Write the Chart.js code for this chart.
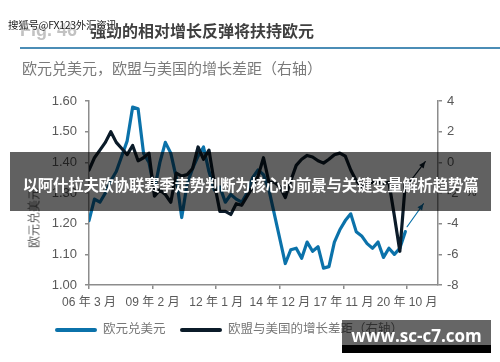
<!DOCTYPE html>
<html>
<head>
<meta charset="utf-8">
<script src="https://cdn.jsdelivr.net/npm/chart.js@4.4.1/dist/chart.umd.min.js"></script>
<style>
  html, body { margin: 0; padding: 0; background: #fff; }
  body { width: 500px; height: 362px; position: relative; overflow: hidden; font-family: "Noto Sans CJK SC", "Liberation Sans", sans-serif; }
  #chart-box { position: absolute; left: 0; top: 0; width: 500px; height: 362px; }
  .abs { position: absolute; white-space: nowrap; }
  .fig { left: 20px; top: 20px; font: bold 18px "Liberation Sans", sans-serif; color: #c2c2c2; }
  .title { left: 90px; top: 18px; font-size: 16px; font-weight: bold; color: #3f3f3f; }
  .mark { left: 8px; top: 17px; font-size: 10.5px; color: #1a1a1a; letter-spacing: -0.3px; text-shadow: 0 0 2px #fff, 0 0 2px #fff; }
  .rule { left: 20px; top: 47px; width: 480px; height: 2px; background: #4b8db6; }
  .subtitle { left: 22px; top: 57px; font-size: 15px; color: #7a7a7a; }
  .ytitle { left: 33px; top: 218px; font-size: 12px; color: #595959; transform: translate(-50%, -50%) rotate(-90deg); }
  .pct { left: 466px; top: 185px; font: 12px "Liberation Sans", sans-serif; color: #595959; }
  .legend { top: 319px; font-size: 12.5px; color: #777; line-height: 18px; }
  .swatch { display: inline-block; width: 42px; height: 4px; vertical-align: middle; margin-right: 6px; border-radius: 2px; }
  .banner { left: 10px; top: 152px; width: 481px; height: 59px; background: rgba(0,0,0,0.62); color: #fff; font-size: 15.4px; font-weight: bold; text-align: center; line-height: 64px; letter-spacing: -0.2px; }
  .site { left: 342px; top: 320px; width: 149px; height: 25px; background: rgba(0,0,0,0.6); }
  .site-strip { left: 342px; top: 345px; width: 149px; height: 8px; background: #000; }
  .site-text { left: 342px; top: 321px; width: 149px; text-align: center; font: bold 17px "Open Sans", "DejaVu Sans", sans-serif; color: #fff; line-height: 30px; }
</style>
</head>
<body>
<div id="chart-box"><canvas id="fxChart"></canvas></div>

<div class="abs fig">Fig. 46</div>
<div class="abs title">强劲的相对增长反弹将扶持欧元</div>
<div class="abs mark">搜狐号@FX123外汇资讯</div>
<div class="abs rule"></div>
<div class="abs subtitle">欧元兑美元，欧盟与美国的增长差距（右轴）</div>
<div class="abs ytitle">欧元兑美元</div>
<div class="abs pct">%</div>
<div class="abs legend" style="left:55px"><span class="swatch" style="background:#0b72aa"></span>欧元兑美元</div>
<div class="abs legend" style="left:180px"><span class="swatch" style="background:#0b1b29"></span>欧盟与美国的增长差距（右轴）</div>
<div class="abs banner">以阿什拉夫欧协联赛季走势判断为核心的前景与关键变量解析趋势篇</div>
<div class="abs site"></div>
<div class="abs site-strip"></div>
<div class="abs site-text">www.sc-c7.com</div>

<script>
// quarters (yy/mm)
const quarters = [
  '06/03','06/06','06/09','06/12', '07/03','07/06','07/09','07/12',
  '08/03','08/06','08/09','08/12', '09/03','09/06','09/09','09/12',
  '10/03','10/06','10/09','10/12', '11/03','11/06','11/09','11/12',
  '12/03','12/06','12/09','12/12', '13/03','13/06','13/09','13/12',
  '14/03','14/06','14/09','14/12', '15/03','15/06','15/09','15/12',
  '16/03','16/06','16/09','16/12', '17/03','17/06','17/09','17/12',
  '18/03','18/06','18/09','18/12', '19/03','19/06','19/09','19/12',
  '20/03','20/06','20/09'
];

// 欧元兑美元 (left axis)
const eurusd = [
  1.21, 1.28, 1.27, 1.30, 1.34, 1.37, 1.42, 1.47,
  1.58, 1.575, 1.43, 1.40, 1.31, 1.40, 1.465, 1.43,
  1.35, 1.22, 1.33, 1.38, 1.42, 1.45, 1.37, 1.31,
  1.32, 1.27, 1.295, 1.28, 1.27, 1.30, 1.35, 1.375,
  1.36, 1.31, 1.23, 1.15, 1.07, 1.115, 1.12, 1.087,
  1.14, 1.11, 1.125, 1.055, 1.06, 1.14, 1.18, 1.21,
  1.232, 1.174, 1.16, 1.135, 1.12, 1.14, 1.09, 1.12,
  1.10, 1.12, 1.174
];

// 欧盟与美国的增长差距 (right axis, %)
const growthGap = [
  -0.5, 0.3, 0.8, 1.3, 2.0, 1.3, 0.9, 0.5,
  1.1, 0.1, 0.3, 0.6, -2.2, -1.8, -2.1, -2.6,
  -0.7, -0.9, -0.8, -0.4, 1.0, 0.2, 0.8, -1.4,
  -3.2, -3.2, -3.4, -2.7, -2.8, -2.2, -1.6, -0.9,
  0.3, -1.3, -1.3, -1.6, -2.3, -1.2, -0.2, 0.2,
  0.45, 0.35, 0.1, -0.05, 0.2, 0.5, 0.6, 0.4,
  -0.5, -1.2, -1.6, -1.4, -1.3, -1.3, -1.4, -1.3,
  -3.5, -5.8, -1.4
];

// arrows (months since 06/03)
const gapArrowMonths = [175, 185];
const gapArrowValues = [-1.5, 0.05];
const rateArrowMonths = [175, 184];
const rateArrowValues = [1.19, 1.265];

// x axis ticks
const tickMonths = [0, 35, 70, 105, 140, 175];
const tickLabels = ['06 年 3 月', '09 年 2 月', '12 年 1 月', '14 年 12 月', '17 年 11 月', '20 年 10 月'];

const BLUE = '#0b72aa';
const DARK = '#0b1b29';
const AXIS = '#8c8c8c';
const TEXT = '#595959';

// months since March 2006
const monthOf = q => {
    const [yy, mm] = q.split('/').map(Number);
    return (yy - 6) * 12 + (mm - 3);
};
const months = quarters.map(monthOf);
const pairs = (xs, ys) => ys.map((y, i) => ({ x: xs[i], y: y }));

// petites flèches au bout des séries
const arrowHeads = {
    id: 'arrowHeads',
    afterDatasetsDraw(chart) {
        const ctx = chart.ctx;
        chart.data.datasets.forEach((ds, i) => {
            if (!ds.arrow) return;
            const pts = chart.getDatasetMeta(i).data;
            const a = pts[pts.length - 2], b = pts[pts.length - 1];
            const ang = Math.atan2(b.y - a.y, b.x - a.x);
            const len = 7;
            ctx.save();
            ctx.fillStyle = ds.borderColor;
            ctx.beginPath();
            ctx.moveTo(b.x, b.y);
            ctx.lineTo(b.x - len * Math.cos(ang - 0.42), b.y - len * Math.sin(ang - 0.42));
            ctx.lineTo(b.x - len * Math.cos(ang + 0.42), b.y - len * Math.sin(ang + 0.42));
            ctx.closePath();
            ctx.fill();
            ctx.restore();
        });
    }
};

const tickFont = { family: '"Liberation Sans", "Noto Sans CJK SC", sans-serif', size: 13 };

new Chart(document.getElementById('fxChart').getContext('2d'), {
    type: 'line',
    data: {
        datasets: [
            {
                label: '欧元兑美元',
                data: pairs(months, eurusd),
                borderColor: BLUE,
                borderWidth: 3.2,
                yAxisID: 'y',
                order: 2
            },
            {
                label: '欧盟与美国的增长差距（右轴）',
                data: pairs(months, growthGap),
                borderColor: DARK,
                borderWidth: 3.2,
                yAxisID: 'y1',
                order: 1
            },
            {
                data: pairs(gapArrowMonths, gapArrowValues),
                borderColor: DARK,
                borderWidth: 1.2,
                yAxisID: 'y1',
                arrow: true
            },
            {
                data: pairs(rateArrowMonths, rateArrowValues),
                borderColor: BLUE,
                borderWidth: 1.2,
                yAxisID: 'y',
                arrow: true
            }
        ]
    },
    options: {
        responsive: true,
        maintainAspectRatio: false,
        animation: false,
        devicePixelRatio: 1,
        layout: { padding: { top: 101, bottom: 47, left: 0, right: 0 } },
        elements: {
            point: { radius: 0 },
            line: { tension: 0, borderJoinStyle: 'round', borderCapStyle: 'round' }
        },
        plugins: {
            legend: { display: false },
            tooltip: { enabled: false }
        },
        scales: {
            x: {
                type: 'linear',
                min: 0,
                max: 192,
                afterFit: s => { s.height = 30; },
                afterBuildTicks: s => { s.ticks = tickMonths.map(v => ({ value: v })); },
                border: { color: AXIS, width: 1.5 },
                grid: { drawOnChartArea: false, color: AXIS, tickLength: 4, lineWidth: 1.5 },
                ticks: {
                    color: TEXT,
                    font: { family: tickFont.family, size: 12 },
                    padding: 6,
                    maxRotation: 0,
                    autoSkip: false,
                    callback: v => tickLabels[tickMonths.indexOf(v)] || ''
                }
            },
            y: {
                position: 'left',
                min: 1.0,
                max: 1.6,
                afterFit: s => { s.width = 89; },
                border: { color: AXIS, width: 1.5 },
                grid: { drawOnChartArea: false, color: AXIS, tickLength: 4, lineWidth: 1.5 },
                ticks: {
                    stepSize: 0.1,
                    color: TEXT,
                    font: tickFont,
                    padding: 8,
                    callback: v => v.toFixed(2)
                }
            },
            y1: {
                position: 'right',
                min: -8,
                max: 4,
                afterFit: s => { s.width = 62; },
                border: { color: AXIS, width: 1.5 },
                grid: { drawOnChartArea: false, color: AXIS, tickLength: 4, lineWidth: 1.5 },
                ticks: {
                    stepSize: 2,
                    color: TEXT,
                    font: tickFont,
                    padding: 5
                }
            }
        }
    },
    plugins: [arrowHeads]
});
</script>
</body>
</html>
